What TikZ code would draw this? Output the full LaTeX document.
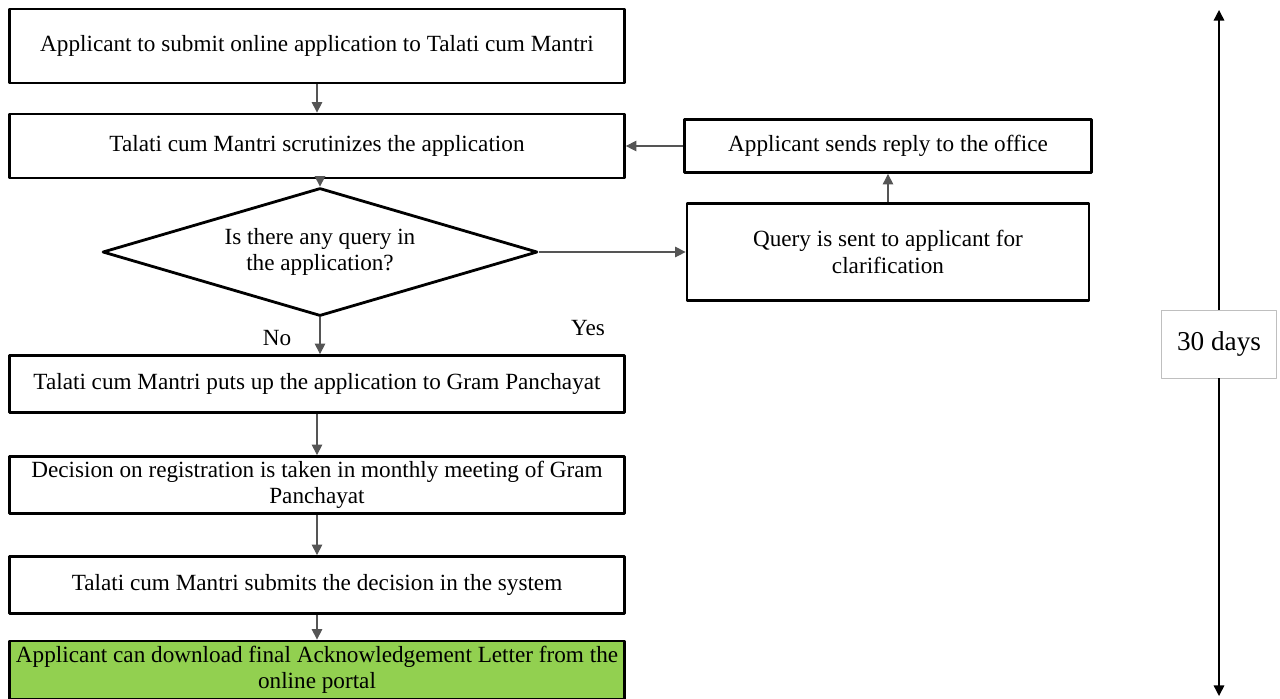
\documentclass[tikz,border=0pt]{standalone}
\usepackage{fontspec}
\setmainfont{Liberation Serif}
\usetikzlibrary{shapes.geometric,arrows.meta}
\definecolor{leaf}{HTML}{92D050}
\definecolor{link}{HTML}{555555}
\tikzset{
	stage/.style={draw, line width=1.6pt, minimum width=12.3cm, minimum height=1.14cm, align=center, inner sep=2pt},
	side/.style={stage, minimum width=8.1cm},
	query/.style={draw, diamond, aspect=3.4, line width=1.6pt, minimum width=8.7cm, minimum height=2.56cm, align=center, inner sep=0pt},
	flow/.style={->, draw=link, line width=0.6pt},
	span/.style={->, line width=0.8pt}
}
\begin{document}
\begin{tikzpicture}[x=0.02cm, y=-0.02cm, font=\fontsize{13.2}{15}\selectfont, line join=round, >={Triangle[length=6pt,width=6pt]}]
	\useasboundingbox (0,0) rectangle (1280,698);
	\node[stage, minimum height=1.48cm] (submit) at (317,46) {Applicant to submit online application to Talati cum Mantri};
	\node[stage, minimum height=1.28cm] (scrutiny) at (317,146) {Talati cum Mantri scrutinizes the application};
	\node[query] (isquery) at (320,252) {Is there any query in\\the application?};
	\node[side, minimum width=8.04cm, minimum height=1.94cm] (sent) at (888,252) {Query is sent to applicant for\\clarification};
	\node[side, minimum width=8.14cm, minimum height=1.06cm] (reply) at (888,146) {Applicant sends reply to the office};
	\node[stage] (putup) at (317,384) {Talati cum Mantri puts up the application to Gram Panchayat};
	\node[stage] (decision) at (317,485) {Decision on registration is taken in monthly meeting of Gram\\Panchayat};
	\node[stage] (system) at (317,585) {Talati cum Mantri submits the decision in the system};
	\node[stage, fill=leaf, minimum height=1.16cm] (letter) at (317,670) {Applicant can download final Acknowledgement Letter from the\\online portal};
	\node at (277,338) {No};
	\node at (588,328) {Yes};
	\node[draw=black!25, line width=0.5pt, minimum width=2.3cm, minimum height=1.36cm, font=\fontsize{15.5}{18}\selectfont] (days) at (1219,344) {30 days};
	\coordinate (top) at (1219,10);
	\coordinate (bottom) at (1219,696);
	\draw[flow] (submit) -- (scrutiny);
	\draw[flow] (scrutiny) -- (scrutiny.south -| isquery.north) -- (isquery.north);
	\draw[flow] (isquery) -- (sent);
	\draw[flow] (sent) -- (reply);
	\draw[flow] (reply) -- (scrutiny.east |- reply);
	\draw[flow] (isquery.south) -- (putup.north -| isquery.south);
	\draw[flow] (putup) -- (decision);
	\draw[flow] (decision) -- (system);
	\draw[flow] (system) -- (letter);
	\draw[span] (days) -- (top);
	\draw[span] (days) -- (bottom);
\end{tikzpicture}
\end{document}
